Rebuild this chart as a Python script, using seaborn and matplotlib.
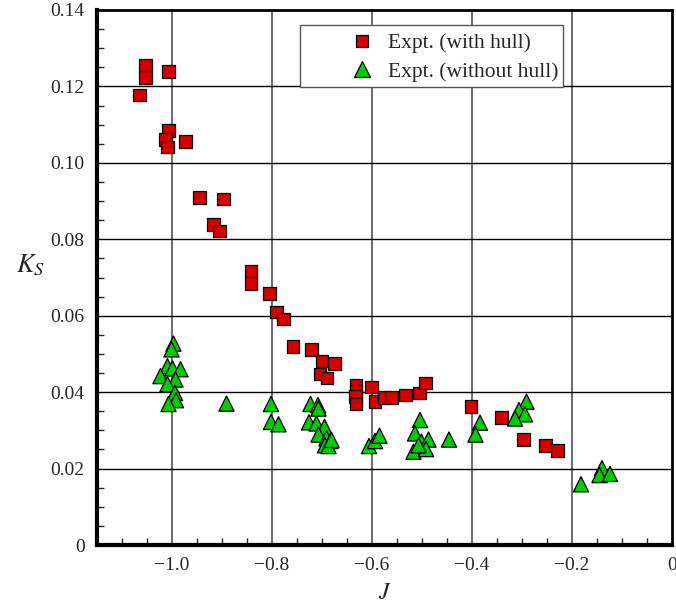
import matplotlib
matplotlib.use("Agg")
import matplotlib.pyplot as plt
import seaborn as sns
import pandas as pd
import numpy as np
from matplotlib.ticker import MultipleLocator, FuncFormatter
from matplotlib.patches import Rectangle
from matplotlib.lines import Line2D

# with hull
J_hull = [-1.053, -1.053, -1.007, -1.065, -1.007, -1.013, -1.009, -0.973, -0.945, -0.897,
          -0.917, -0.905, -0.842, -0.842, -0.805, -0.791, -0.777, -0.758, -0.721, -0.700,
          -0.675, -0.704, -0.690, -0.632, -0.632, -0.633, -0.632, -0.601, -0.594, -0.576,
          -0.561, -0.533, -0.505, -0.493, -0.402, -0.341, -0.297, -0.253, -0.229]
K_hull = [0.1255, 0.1223, 0.1239, 0.1178, 0.1085, 0.1061, 0.1041, 0.1056, 0.0909, 0.0905,
          0.0838, 0.0822, 0.0716, 0.0684, 0.0658, 0.0610, 0.0591, 0.0520, 0.0511, 0.0482,
          0.0475, 0.0447, 0.0437, 0.0418, 0.0401, 0.0388, 0.0369, 0.0414, 0.0376, 0.0386,
          0.0386, 0.0392, 0.0398, 0.0424, 0.0363, 0.0334, 0.0276, 0.0261, 0.0248]

# without hull
J_nohull = [-0.997, -1.001, -1.009, -0.999, -0.983, -1.023, -0.993, -1.009, -0.994, -0.992,
            -1.007, -0.891, -0.802, -0.802, -0.787, -0.723, -0.708, -0.707, -0.726, -0.711,
            -0.695, -0.707, -0.691, -0.683, -0.694, -0.687, -0.681, -0.606, -0.594, -0.585,
            -0.504, -0.514, -0.501, -0.487, -0.517, -0.492, -0.507, -0.446, -0.384, -0.393,
            -0.291, -0.306, -0.294, -0.314, -0.182, -0.140, -0.145, -0.124]
K_nohull = [0.0527, 0.0512, 0.0468, 0.0462, 0.0460, 0.0442, 0.0433, 0.0421, 0.0398, 0.0379,
            0.0369, 0.0370, 0.0369, 0.0322, 0.0316, 0.0369, 0.0366, 0.0357, 0.0321, 0.0318,
            0.0309, 0.0289, 0.0279, 0.0272, 0.0261, 0.0259, 0.0275, 0.0259, 0.0272, 0.0286,
            0.0327, 0.0292, 0.0270, 0.0276, 0.0244, 0.0251, 0.0261, 0.0276, 0.0320, 0.0289,
            0.0375, 0.0353, 0.0342, 0.0331, 0.0159, 0.0201, 0.0183, 0.0186]

labels = ["Expt. (with hull)", "Expt. (without hull)"]

df = pd.concat([
    pd.DataFrame({"J": J_hull, "K": K_hull, "set": labels[0]}),
    pd.DataFrame({"J": J_nohull, "K": K_nohull, "set": labels[1]}),
])

sns.set_style("white")
plt.rcParams["font.family"] = ["Liberation Serif", "DejaVu Serif"]
plt.rcParams["mathtext.fontset"] = "stix"

fig = plt.figure(figsize=(6.76, 6.04), dpi=100)
ax = fig.add_axes([97/676, 1 - 545/604, (672-97)/676, (545-10)/604])

# grid
for x in [-1.0, -0.8, -0.6, -0.4, -0.2]:
    ax.axvline(x, color="#707070", lw=1.5, zorder=0)
for y in [0.02, 0.04, 0.06, 0.08, 0.10, 0.12]:
    ax.axhline(y, color="black", lw=1.0, zorder=0)

sns.scatterplot(data=df, x="J", y="K", hue="set", style="set", size="set",
                palette={labels[0]: "#d40000", labels[1]: "#00cc00"},
                markers={labels[0]: "s", labels[1]: "^"},
                sizes={labels[0]: 82, labels[1]: 120},
                edgecolor="black", linewidth=0.9, ax=ax, zorder=3, legend=False)

ax.set_xlim(-1.15, 0)
ax.set_ylim(0, 0.14)
ax.xaxis.set_major_locator(MultipleLocator(0.2))
ax.xaxis.set_minor_locator(MultipleLocator(0.05))
ax.yaxis.set_major_locator(MultipleLocator(0.02))
ax.yaxis.set_minor_locator(MultipleLocator(0.005))

def xfmt(v, p):
    if abs(v) < 1e-9:
        return "0"
    return "\u2212" + f"{abs(v):.1f}"
def yfmt(v, p):
    if abs(v) < 1e-9:
        return "0"
    return f"{v:.2f}"
ax.xaxis.set_major_formatter(FuncFormatter(xfmt))
ax.yaxis.set_major_formatter(FuncFormatter(yfmt))

ax.tick_params(axis="both", which="major", direction="in", length=9, width=2,
               labelsize=14, top=False, right=False, pad=9)
ax.tick_params(axis="both", which="minor", direction="in", length=5, width=1,
               top=False, right=False, bottom=True, left=True)

for side in ["left", "bottom"]:
    ax.spines[side].set_linewidth(3)
for side in ["top", "right"]:
    ax.spines[side].set_linewidth(2)
for sp in ax.spines.values():
    sp.set_color("black")

ax.set_xlabel("$J$", fontsize=17, labelpad=6)
ax.set_ylabel("$K_S$", fontsize=19, rotation=0, labelpad=14)

# legend: frame drawn as a rectangle, entries from proxy handles
handles = [
    Line2D([], [], ls="none", marker="s", ms=8.5, mfc="#d40000", mec="black", mew=0.9),
    Line2D([], [], ls="none", marker="^", ms=11, mfc="#00cc00", mec="black", mew=0.9),
]
ax.add_patch(Rectangle((0.353, 0.856), 0.457, 0.116, transform=ax.transAxes,
                       facecolor="white", edgecolor="#555555", lw=1.0, zorder=4))
leg = ax.legend(handles, labels, loc="upper left", bbox_to_anchor=(0.433, 0.957),
                fontsize=15.5, frameon=False, borderpad=0, handlelength=1.5,
                handletextpad=0.45, labelspacing=0.4, borderaxespad=0)
leg.set_zorder(5)

fig.savefig("out.png", dpi=100)
